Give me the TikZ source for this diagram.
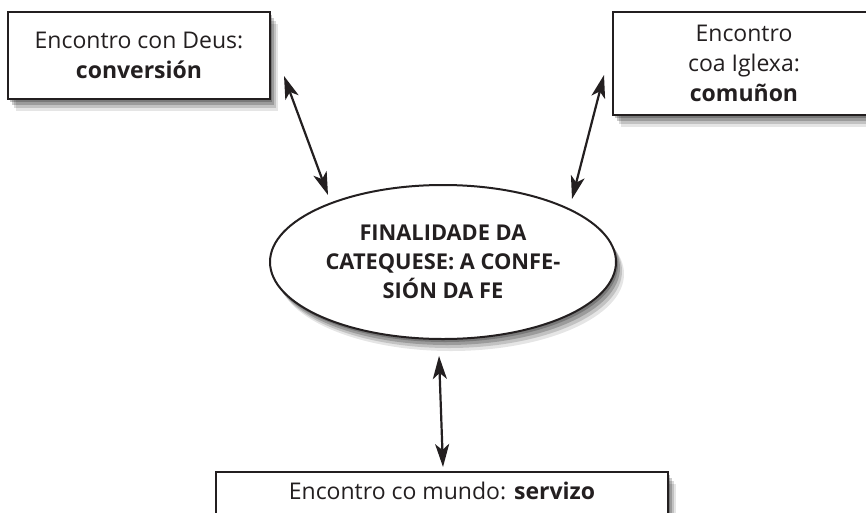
\documentclass[tikz,border=0pt]{standalone}
\usepackage{fontspec}
\setmainfont{Open Sans}
\usetikzlibrary{arrows.meta,shadows,shapes.geometric}
\definecolor{ink}{HTML}{231F20}
\tikzset{
  softshadow/.style={
    drop shadow={shadow xshift=2pt,shadow yshift=-3pt,opacity=.22,fill=black},
    drop shadow={shadow xshift=4pt,shadow yshift=-6pt,opacity=.2,fill=black},
    drop shadow={shadow xshift=6pt,shadow yshift=-9pt,opacity=.15,fill=black},
    drop shadow={shadow xshift=8pt,shadow yshift=-12pt,opacity=.1,fill=black}},
  caixa/.style={draw=ink, line width=2pt, fill=white, inner sep=0pt, align=center,
    text=ink, font=\fontsize{23}{30}\selectfont, softshadow},
  meta/.style={ellipse, draw=ink, line width=2pt, fill=white, inner sep=0pt, align=center,
    text=ink, font=\fontsize{21.8}{29}\selectfont\bfseries, softshadow},
  frecha/.style={draw=ink, line width=2.2pt,
    {Stealth[length=23pt,width=14pt,inset=6pt]}-{Stealth[length=23pt,width=14pt,inset=6pt]}}
}
\begin{document}
\begin{tikzpicture}[x=1pt, y=-1pt]
    \clip (0,0) rectangle (866,512);
    \fill[white] (0,0) rectangle (866,512);
    % caixas
    \node[caixa, minimum width=262pt, minimum height=87pt] (deus) at (139,55.5)
        {Encontro con Deus:\\\textbf{conversión}};
    \node[caixa, minimum width=262pt, minimum height=103pt] (igrexa) at (744,63.5)
        {Encontro\\coa Iglexa:\\\textbf{comuñon}};
    \node[meta, minimum width=346pt, minimum height=154pt] (fin) at (443,262)
        {FINALIDADE DA\\CATEQUESE: A CONFE-\\SIÓN DA FE};
    \node[caixa, anchor=north, minimum width=452pt, text height=27pt, text depth=33pt] (mundo) at (442,471)
        {Encontro co mundo: \textbf{servizo}};
    % frechas
    \draw[frecha] ([shift={(13,-24)}]deus.south east) -- ([shift={(-115,-67)}]fin.center);
    \draw[frecha] ([shift={(-8,11.5)}]igrexa.west) -- ([shift={(129,-63)}]fin.center);
    \draw[frecha] ([shift={(-4,16)}]fin.south) -- ([shift={(1,-4)}]mundo.north);
\end{tikzpicture}
\end{document}
